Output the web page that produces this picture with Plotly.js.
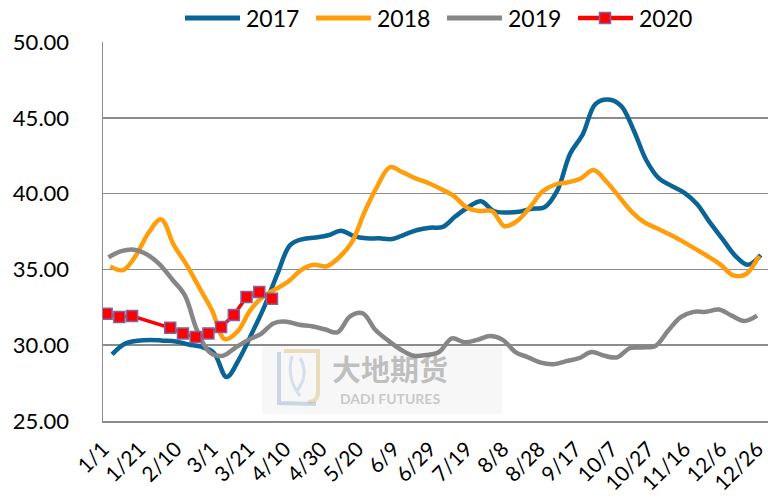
<!DOCTYPE html>
<html>
<head>
<meta charset="utf-8">
<script src="https://cdn.plot.ly/plotly-3.0.1.min.js"></script>
<style>
  html, body { margin: 0; padding: 0; background: #fff; }
  #chart { width: 768px; height: 501px; }
</style>
</head>
<body>
<div id="chart"></div>
<script>
// ---------------- data ----------------
var seriesNames = ['2017', '2018', '2019', '2020'];
var tickLabels = ['1/1','1/21','2/10','3/1','3/21','4/10','4/30','5/20','6/9','6/29',
                  '7/19','8/8','8/28','9/17','10/7','10/27','11/16','12/6','12/26'];
var tickDates = ['2020-01-01','2020-01-21','2020-02-10','2020-03-01','2020-03-21','2020-04-10',
                 '2020-04-30','2020-05-20','2020-06-09','2020-06-29','2020-07-19','2020-08-08',
                 '2020-08-28','2020-09-17','2020-10-07','2020-10-27','2020-11-16','2020-12-06',
                 '2020-12-26'];

// weekly observations (Fridays), plotted on a common month/day axis
var start2017 = '2020-01-06';
var start2018 = '2020-01-05';
var start2019 = '2020-01-04';

var values2017 = [29.4, 30.1, 30.3, 30.35, 30.3, 30.25, 30.05, 29.9, 29.5, 27.9,
                  29.1, 30.8, 32.6, 34.7, 36.6, 37.0, 37.1, 37.25, 37.55, 37.2,
                  37.05, 37.05, 37.0, 37.3, 37.6, 37.75, 37.8, 38.5, 39.1, 39.5,
                  38.85, 38.75, 38.8, 39.0, 39.1, 40.2, 42.6, 43.9, 45.9, 46.2,
                  45.8, 44.2, 42.2, 41.0, 40.5, 40.05, 39.3, 38.1, 37.0, 35.9,
                  35.3, 35.95];
var values2018 = [35.2, 34.95, 35.9, 37.4, 38.3, 36.6, 35.3, 33.8, 32.3, 30.4,
                  30.9, 32.3, 33.2, 33.7, 34.2, 34.95, 35.3, 35.2, 35.8, 36.8,
                  38.8, 40.5, 41.75, 41.4, 41.0, 40.7, 40.3, 39.85, 39.1, 38.85,
                  38.85, 37.85, 38.2, 39.1, 40.15, 40.6, 40.75, 41.0, 41.55, 40.8,
                  39.8, 38.8, 38.1, 37.7, 37.3, 36.85, 36.35, 35.85, 35.3, 34.6,
                  34.7, 35.9];
var values2019 = [35.8, 36.2, 36.3, 36.0, 35.35, 34.35, 33.3, 30.9, 29.5, 29.3,
                  29.85, 30.35, 30.75, 31.45, 31.55, 31.35, 31.25, 31.05, 30.85, 31.9,
                  32.1, 31.0, 30.3, 29.7, 29.3, 29.35, 29.55, 30.45, 30.2, 30.35,
                  30.6, 30.35, 29.55, 29.2, 28.85, 28.75, 28.95, 29.15, 29.55, 29.3,
                  29.2, 29.8, 29.85, 29.95, 30.95, 31.85, 32.2, 32.2, 32.35, 31.95,
                  31.6, 31.95];
var dates2020 = ['2020-01-03','2020-01-10','2020-01-17','2020-02-07','2020-02-14','2020-02-21',
                 '2020-02-28','2020-03-06','2020-03-13','2020-03-20','2020-03-27','2020-04-03'];
var values2020 = [32.08, 31.86, 31.92, 31.15, 30.78, 30.54, 30.78, 31.2, 31.99, 33.18, 33.51, 33.07];

var yTicks = [25, 30, 35, 40, 45, 50];

// ---------------- helpers ----------------
function weeklyDates(startIso, n) {
  var t0 = Date.parse(startIso + 'T00:00:00Z');
  var out = [];
  for (var i = 0; i < n; i++) {
    out.push(new Date(t0 + i * 7 * 86400000).toISOString().slice(0, 10));
  }
  return out;
}

var COLORS = { '2017': '#0A6496', '2018': '#FF9E0A', '2019': '#868686', '2020': '#FF0000' };
var FONT = 'Lato, "Open Sans", sans-serif';

// plot-area geometry (pixels) for the hand-made legend / watermark
var L = 103, R = 768, T = 42, B = 421;
function px(x) { return (x - L) / (R - L); }
function py(y) { return (B - y) / (B - T); }

var traces = [
  { x: weeklyDates(start2017, values2017.length), y: values2017, name: '2017', type: 'scatter', mode: 'lines',
    line: { color: COLORS['2017'], width: 4.5, shape: 'spline', smoothing: 1 } },
  { x: weeklyDates(start2018, values2018.length), y: values2018, name: '2018', type: 'scatter', mode: 'lines',
    line: { color: COLORS['2018'], width: 4.5, shape: 'spline', smoothing: 1 } },
  { x: weeklyDates(start2019, values2019.length), y: values2019, name: '2019', type: 'scatter', mode: 'lines',
    line: { color: COLORS['2019'], width: 4.5, shape: 'spline', smoothing: 1 } },
  { x: dates2020, y: values2020, name: '2020', type: 'scatter', mode: 'lines+markers',
    line: { color: COLORS['2020'], width: 3.5 },
    marker: { symbol: 'square', size: 11, color: '#FF0000', line: { color: '#8064A2', width: 1.5 } } }
];

// custom legend
var legendItems = [
  { name: '2017', x0: 185, x1: 240, tx: 244 },
  { name: '2018', x0: 316, x1: 371, tx: 375 },
  { name: '2019', x0: 447, x1: 502, tx: 506 },
  { name: '2020', x0: 578, x1: 633, tx: 637 }
];
var legY = 18;
var shapes = [];
var annotations = [];

// watermark
shapes.push({ type: 'rect', xref: 'paper', yref: 'paper', layer: 'below',
  x0: px(262), x1: px(502), y0: py(414), y1: py(346),
  fillcolor: 'rgba(238,238,238,0.45)', line: { width: 0 } });
shapes.push({ type: 'path', xref: 'paper', yref: 'paper', layer: 'below',
  path: 'M' + px(284) + ',' + py(351) + ' L' + px(318) + ',' + py(351) + ' L' + px(318) + ',' + py(392) +
        ' Q' + px(318) + ',' + py(402) + ' ' + px(308) + ',' + py(402),
  line: { color: 'rgba(222,196,140,0.55)', width: 4 } });
shapes.push({ type: 'path', xref: 'paper', yref: 'paper', layer: 'below',
  path: 'M' + px(279) + ',' + py(352) + ' L' + px(279) + ',' + py(403) + ' L' + px(316) + ',' + py(404),
  line: { color: 'rgba(160,180,210,0.5)', width: 4 } });
shapes.push({ type: 'path', xref: 'paper', yref: 'paper', layer: 'below',
  path: 'M' + px(292) + ',' + py(356) + ' Q' + px(286) + ',' + py(378) + ' ' + px(300) + ',' + py(396) +
        ' M' + px(300) + ',' + py(358) + ' Q' + px(310) + ',' + py(375) + ' ' + px(296) + ',' + py(392),
  line: { color: 'rgba(170,190,220,0.45)', width: 3 } });
annotations.push({ xref: 'paper', yref: 'paper', x: px(390), y: py(368), xanchor: 'center', yanchor: 'middle',
  text: '大地期货', showarrow: false,
  font: { family: '"Noto Sans CJK SC", sans-serif', size: 29, color: 'rgba(120,120,120,0.45)', weight: 700 } });
annotations.push({ xref: 'paper', yref: 'paper', x: px(390), y: py(398), xanchor: 'center', yanchor: 'middle',
  text: 'DADI FUTURES', showarrow: false,
  font: { family: FONT, size: 14, color: 'rgba(140,140,140,0.45)', weight: 700 } });

legendItems.forEach(function (it) {
  shapes.push({ type: 'line', xref: 'paper', yref: 'paper',
    x0: px(it.x0), x1: px(it.x1), y0: py(legY), y1: py(legY),
    line: { color: COLORS[it.name], width: it.name === '2020' ? 4.5 : 5 } });
  annotations.push({ xref: 'paper', yref: 'paper', x: px(it.tx), y: py(legY + 0.5),
    xanchor: 'left', yanchor: 'middle', text: it.name, showarrow: false,
    font: { family: FONT, size: 23, color: '#000' } });
});
// 2020 legend marker
shapes.push({ type: 'rect', xref: 'paper', yref: 'paper',
  x0: px(599.5), x1: px(610.5), y0: py(23.5), y1: py(12.5),
  fillcolor: '#FF0000', line: { color: '#8064A2', width: 1.5 } });

var layout = {
  width: 768, height: 501,
  margin: { l: L, r: 768 - R, t: T, b: 501 - B, pad: 0 },
  paper_bgcolor: '#ffffff', plot_bgcolor: '#ffffff',
  showlegend: false,
  font: { family: FONT, color: '#000' },
  xaxis: {
    type: 'date',
    range: ['2020-01-01', '2021-01-01'],
    tickmode: 'array', tickvals: tickDates, ticktext: tickLabels,
    tickangle: -45, ticks: '', showgrid: false, zeroline: false,
    showline: true, linecolor: '#8c8c8c', linewidth: 1.5,
    tickfont: { family: FONT, size: 21, color: '#000' },
    ticklabelstandoff: 6
  },
  yaxis: {
    range: [25, 50], tickmode: 'array', tickvals: yTicks,
    tickformat: '.2f', ticks: '', showgrid: true, gridcolor: '#8c8c8c', gridwidth: 1.5,
    zeroline: false, showline: true, linecolor: '#8c8c8c', linewidth: 1.5,
    tickfont: { family: FONT, size: 22, color: '#000' },
    ticklabelstandoff: 28
  },
  shapes: shapes,
  annotations: annotations
};

Plotly.newPlot('chart', traces, layout, { displayModeBar: false, staticPlot: true });
</script>
</body>
</html>
